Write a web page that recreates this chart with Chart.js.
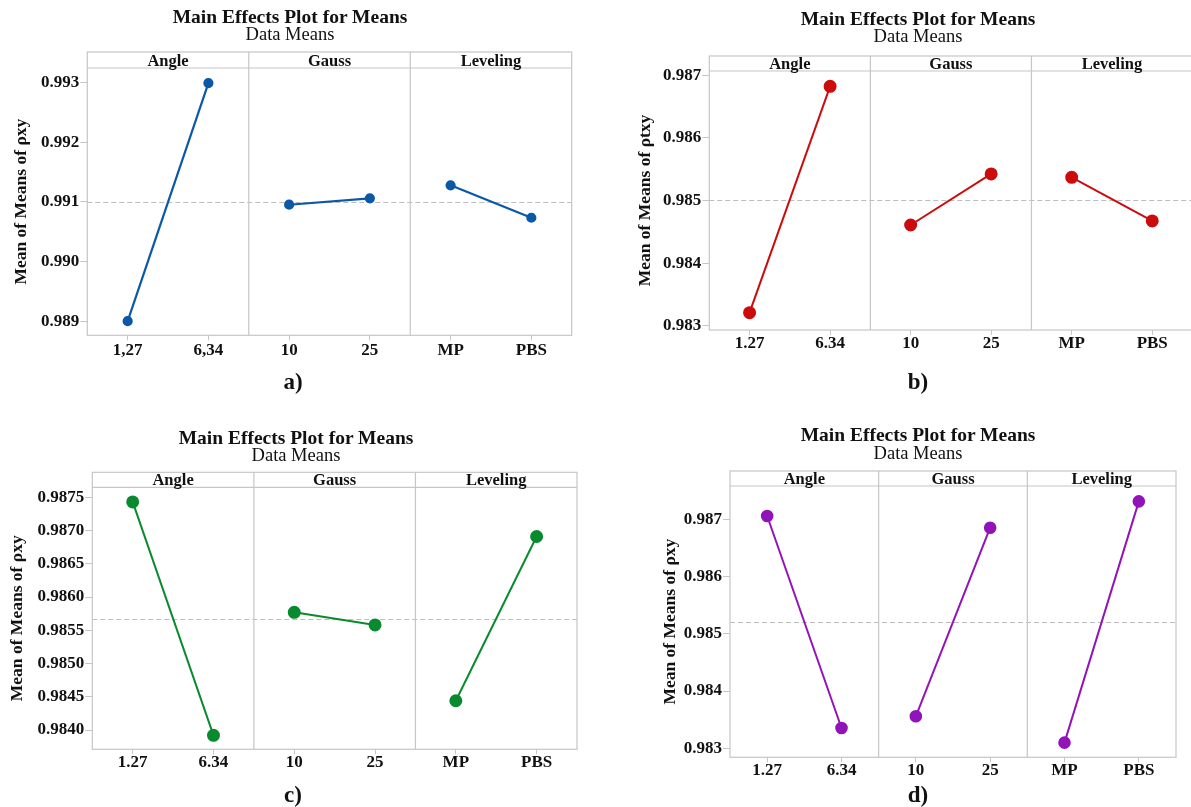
<!DOCTYPE html>
<html>
<head>
<meta charset="utf-8">
<title>Main Effects Plot for Means</title>
<style>
  html, body { margin: 0; padding: 0; background: #fff; overflow: hidden; width: 1191px; height: 807px; }
  canvas { position: absolute; }
  .txt { position: absolute; width: 400px; text-align: center; white-space: nowrap; color: #111;
         font-family: 'Liberation Serif', 'Times New Roman', serif; }
  .main { font-weight: bold; font-size: 19.5px; line-height: 20px; }
  .sub { font-size: 18.5px; line-height: 20px; }
  .tag { font-weight: bold; font-size: 23px; line-height: 26px; }
</style>
</head>
<body>
<canvas id="chartA" width="595" height="400" style="left:0px;top:0px"></canvas>
<canvas id="chartB" width="600" height="400" style="left:600px;top:0px"></canvas>
<canvas id="chartC" width="595" height="387" style="left:0px;top:420px"></canvas>
<canvas id="chartD" width="591" height="387" style="left:600px;top:420px"></canvas>

<div class="txt main" style="left:90px;top:7px">Main Effects Plot for Means</div>
<div class="txt sub" style="left:90px;top:24px">Data Means</div>
<div class="txt main" style="left:718px;top:9px">Main Effects Plot for Means</div>
<div class="txt sub" style="left:718px;top:26px">Data Means</div>
<div class="txt main" style="left:96px;top:428px">Main Effects Plot for Means</div>
<div class="txt sub" style="left:96px;top:445px">Data Means</div>
<div class="txt main" style="left:718px;top:425px">Main Effects Plot for Means</div>
<div class="txt sub" style="left:718px;top:443px">Data Means</div>

<div class="txt tag" style="left:93px;top:369px">a)</div>
<div class="txt tag" style="left:718px;top:369px">b)</div>
<div class="txt tag" style="left:93px;top:782px">c)</div>
<div class="txt tag" style="left:718px;top:782px">d)</div>

<script src="https://cdn.jsdelivr.net/npm/chart.js"></script>
<script>
// factors and their levels
const facets = ['Angle', 'Gauss', 'Leveling'];
const levelsComma = ['1,27', '6,34', '10', '25', 'MP', 'PBS'];
const levelsDot = ['1.27', '6.34', '10', '25', 'MP', 'PBS'];

// level means
const meansA = [0.98900, 0.99299, 0.990952, 0.991059, 0.991277, 0.990734];
const meansB = [0.983213, 0.986824, 0.984612, 0.985426, 0.985372, 0.984676];
const meansC = [0.98743, 0.98392, 0.98577, 0.98558, 0.98444, 0.98691];
const meansD = [0.987058, 0.983355, 0.983559, 0.986854, 0.983099, 0.987314];

// grand means (dashed reference line)
const grandA = 0.991003;
const grandB = 0.985018;
const grandC = 0.985675;
const grandD = 0.985207;

// y tick values
const ticksA = [0.989, 0.990, 0.991, 0.992, 0.993];
const ticksB = [0.983, 0.984, 0.985, 0.986, 0.987];
const ticksC = [0.9840, 0.9845, 0.9850, 0.9855, 0.9860, 0.9865, 0.9870, 0.9875];
const ticksD = [0.983, 0.984, 0.985, 0.986, 0.987];

// y axis ranges
const rangeA = [0.988764, 0.993243];
const rangeB = [0.982936, 0.987069];
const rangeC = [0.98371, 0.98765];
const rangeD = [0.982843, 0.987582];

const yTitleXY = 'Mean of Means of ρxy';
const yTitleTXY = 'Mean of Means of ρtxy';

const serif = "'Liberation Serif', 'Times New Roman', serif";
const boxGray = '#c6c6c6';

// strip header, panel dividers, frame and grand mean line
const facetStrip = {
  id: 'facetStrip',
  beforeDatasetsDraw(chart, args, opts) {
    const { ctx, chartArea: a, scales: { x, y } } = chart;
    const top = a.top - opts.stripHeight;
    ctx.save();

    const ym = Math.round(y.getPixelForValue(opts.grandMean)) + 0.5;
    ctx.strokeStyle = '#bdbdbd';
    ctx.lineWidth = 1;
    ctx.setLineDash([5, 3]);
    ctx.beginPath();
    ctx.moveTo(a.left, ym);
    ctx.lineTo(a.right, ym);
    ctx.stroke();
    ctx.setLineDash([]);

    ctx.strokeStyle = boxGray;
    ctx.lineWidth = 1.2;
    ctx.strokeRect(a.left, top, a.right - a.left, a.bottom - top);
    ctx.beginPath();
    ctx.moveTo(a.left, a.top);
    ctx.lineTo(a.right, a.top);
    for (let f = 1; f < facets.length; f++) {
      const xb = (x.getPixelForValue(2 * f - 1) + x.getPixelForValue(2 * f)) / 2;
      ctx.moveTo(xb, top);
      ctx.lineTo(xb, a.bottom);
    }
    ctx.stroke();

    ctx.fillStyle = '#111';
    ctx.font = 'bold 16.5px ' + serif;
    ctx.textAlign = 'center';
    ctx.textBaseline = 'alphabetic';
    facets.forEach((name, f) => {
      const xc = (x.getPixelForValue(2 * f) + x.getPixelForValue(2 * f + 1)) / 2;
      ctx.fillText(name, xc, a.top - 2.5);
    });
    ctx.restore();
  }
};

function makePanel(p) {
  const datasets = facets.map((name, f) => ({
    label: name,
    data: p.means.map((v, i) => Math.floor(i / 2) === f ? v : null),
    borderColor: p.color,
    backgroundColor: p.color,
    pointBackgroundColor: p.color,
    pointBorderColor: p.color,
    borderWidth: p.lw,
    pointRadius: p.r,
    pointHoverRadius: p.r,
    tension: 0,
    spanGaps: false,
    clip: false
  }));

  new Chart(document.getElementById(p.id), {
    type: 'line',
    data: { labels: p.levels, datasets: datasets },
    options: {
      responsive: false,
      animation: false,
      events: [],
      layout: { padding: p.pad },
      plugins: {
        legend: { display: false },
        title: { display: false },
        tooltip: { enabled: false },
        facetStrip: { stripHeight: p.strip, grandMean: p.grand }
      },
      scales: {
        x: {
          type: 'category',
          offset: true,
          border: { display: false },
          grid: { offset: false, drawOnChartArea: false, drawTicks: true, tickLength: 5, color: boxGray },
          ticks: {
            color: '#111',
            padding: p.xPad,
            maxRotation: 0,
            autoSkip: false,
            font: { family: serif, size: 17, weight: 'bold', lineHeight: 1 }
          },
          afterFit(scale) { scale.height = 40; }
        },
        y: {
          type: 'linear',
          min: p.range[0],
          max: p.range[1],
          border: { display: false },
          grid: { drawOnChartArea: false, drawTicks: true, tickLength: 7, color: boxGray },
          ticks: {
            color: '#111',
            padding: 1,
            font: { family: serif, size: 17, weight: 'bold' },
            callback: (v) => v.toFixed(p.dec)
          },
          afterBuildTicks(scale) { scale.ticks = p.ticks.map(v => ({ value: v })); },
          afterFit(scale) { scale.width = p.yW; },
          title: {
            display: true,
            text: p.yTitle,
            color: '#111',
            padding: { top: 0, bottom: 0 },
            font: { family: serif, size: 17.5, weight: 'bold', lineHeight: 1.2 }
          }
        }
      }
    },
    plugins: [facetStrip]
  });
}

makePanel({ id: 'chartA', levels: levelsComma, means: meansA, grand: grandA, ticks: ticksA, range: rangeA,
  dec: 3, yTitle: yTitleXY, color: '#0b58a8', r: 4, lw: 2.2, yW: 76.8, strip: 16, xPad: 2,
  pad: { left: 10.5, top: 68, right: 23.3, bottom: 24.7 } });

makePanel({ id: 'chartB', levels: levelsDot, means: meansB, grand: grandB, ticks: ticksB, range: rangeB,
  dec: 3, yTitle: yTitleTXY, color: '#cc0c0c', r: 5.5, lw: 2, yW: 74.5, strip: 15, xPad: 0,
  pad: { left: 34.8, top: 71, right: 6.5, bottom: 30 } });

makePanel({ id: 'chartC', levels: levelsDot, means: meansC, grand: grandC, ticks: ticksC, range: rangeC,
  dec: 4, yTitle: yTitleXY, color: '#0a8a2e', r: 5.5, lw: 2, yW: 85.5, strip: 15, xPad: 0,
  pad: { left: 6.8, top: 67.3, right: 18, bottom: 17.7 } });

makePanel({ id: 'chartD', levels: levelsDot, means: meansD, grand: grandD, ticks: ticksD, range: rangeD,
  dec: 3, yTitle: yTitleXY, color: '#9114b8', r: 5.3, lw: 2, yW: 70.2, strip: 15, xPad: 0,
  pad: { left: 59.8, top: 66, right: 15, bottom: 9.7 } });
</script>
</body>
</html>
